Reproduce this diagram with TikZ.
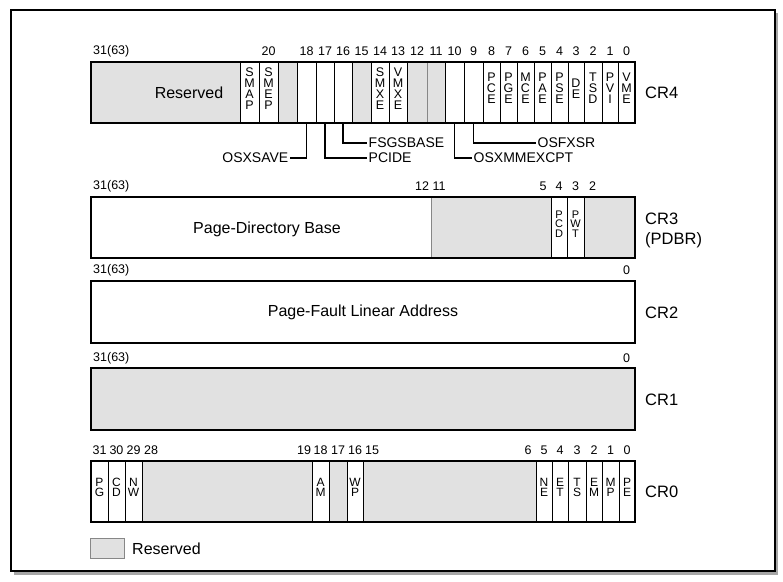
\documentclass[tikz,border=0pt]{standalone}
\usepackage{fontspec}
\setmainfont{Liberation Sans}
\usetikzlibrary{fit}
\definecolor{resv}{RGB}{225,225,225}
\definecolor{divg}{RGB}{135,135,135}
\newcommand\rc[5]{\node[#4, fit={(#2,\yt) (#3,\yb)}] (#1) {#5};}
\newcommand\bn[4]{\node[bitnum] (#1) at (#2,#3) {#4};}
\begin{document}
\begin{tikzpicture}[x=1pt,y=-1pt,
  gcell/.style={inner sep=0pt, outer sep=0pt, fill=resv, draw=divg, line width=0.8pt},
  wcell/.style={inner sep=0pt, outer sep=0pt, fill=white, draw=black, line width=0.7pt, align=center, font=\fontsize{12.5}{11}\selectfont},
  ocell/.style={wcell, font=\fontsize{12}{10.5}\selectfont},
  scell/.style={wcell, font=\fontsize{11}{9.5}\selectfont},
  regbox/.style={inner sep=0pt, outer sep=0pt, draw=black, line width=1.6pt},
  bitnum/.style={font=\fontsize{12.5}{13}\selectfont, inner sep=0pt},
  crlabel/.style={font=\fontsize{16.5}{20}\selectfont, anchor=west, inner sep=0pt, align=left},
  bigtext/.style={font=\fontsize{16}{18}\selectfont, inner sep=0pt},
  flaglabel/.style={font=\fontsize{14}{16}\selectfont, inner sep=1.5pt},
  leader/.style={draw=black, line width=1.4pt},
]
% canvas and frame
\useasboundingbox (0,0) rectangle (783,581);
\fill[white] (0,0) rectangle (783,581);
\fill[black!35] (14,13) rectangle (778,575);
\draw[fill=white, line width=1.2pt] (11,10) rectangle (775,571);

% ---------------- CR4 ----------------
\def\yt{62}\def\yb{123}
\rc{c4res}{91}{240}{gcell}{}
\rc{c4b19}{278}{297}{gcell}{}
\rc{c4b15}{352}{371}{gcell}{}
\rc{c4b12}{407}{427}{gcell}{}
\rc{c4b11}{427}{445}{gcell}{}
\rc{c4smap}{240}{259}{wcell}{S\\M\\A\\P}
\rc{c4smep}{259}{278}{wcell}{S\\M\\E\\P}
\rc{c4b18}{297}{316}{wcell}{}
\rc{c4b17}{316}{334}{wcell}{}
\rc{c4b16}{334}{352}{wcell}{}
\rc{c4smxe}{371}{389}{wcell}{S\\M\\X\\E}
\rc{c4vmxe}{389}{407}{wcell}{V\\M\\X\\E}
\rc{c4b10}{445}{464}{wcell}{}
\rc{c4b9}{464}{483}{wcell}{}
\rc{c4pce}{483}{500}{wcell}{P\\C\\E}
\rc{c4pge}{500}{517}{wcell}{P\\G\\E}
\rc{c4mce}{517}{534}{wcell}{M\\C\\E}
\rc{c4pae}{534}{551}{wcell}{P\\A\\E}
\rc{c4pse}{551}{568}{wcell}{P\\S\\E}
\rc{c4de}{568}{584}{wcell}{D\\E}
\rc{c4tsd}{584}{602}{wcell}{T\\S\\D}
\rc{c4pvi}{602}{618}{wcell}{P\\V\\I}
\rc{c4vme}{618}{635}{wcell}{V\\M\\E}
\node[regbox, fit={(91,\yt) (635,\yb)}] (cr4) {};
\node[bigtext] (c4restext) at (189,93) {Reserved};
\node[crlabel] (l4) at (645,93) {CR4};
\node[bitnum, anchor=west] (n4a) at (93,51) {31(63)};
\bn{n4b}{268.5}{51}{20}
\bn{n4c}{306.5}{51}{18}
\bn{n4d}{325}{51}{17}
\bn{n4e}{343}{51}{16}
\bn{n4f}{361.5}{51}{15}
\bn{n4g}{380}{51}{14}
\bn{n4h}{398}{51}{13}
\bn{n4i}{417}{51}{12}
\bn{n4j}{436}{51}{11}
\bn{n4k}{454.5}{51}{10}
\bn{n4l}{473.5}{51}{9}
\bn{n4m}{491.5}{51}{8}
\bn{n4n}{508.5}{51}{7}
\bn{n4o}{525.5}{51}{6}
\bn{n4p}{542.5}{51}{5}
\bn{n4q}{559.5}{51}{4}
\bn{n4r}{576}{51}{3}
\bn{n4s}{593}{51}{2}
\bn{n4t}{610}{51}{1}
\bn{n4u}{626.5}{51}{0}
% flag labels and leaders
\node[flaglabel, anchor=east] (osxsave) at (290,158) {OSXSAVE};
\node[flaglabel, anchor=west] (pcide) at (367,158) {PCIDE};
\node[flaglabel, anchor=west] (fsgsbase) at (367,143) {FSGSBASE};
\node[flaglabel, anchor=west] (osxmm) at (472,158) {OSXMMEXCPT};
\node[flaglabel, anchor=west] (osfxsr) at (536,143) {OSFXSR};
\draw[leader] (c4b18.south) |- (osxsave.east);
\draw[leader] (c4b17.south) |- (pcide.west);
\draw[leader] (c4b16.south) |- (fsgsbase.west);
\draw[leader] (c4b10.south) |- (osxmm.west);
\draw[leader] (c4b9.south) |- (osfxsr.west);

% ---------------- CR3 ----------------
\def\yt{197}\def\yb{258}
\rc{c3pdb}{91}{431}{wcell}{}
\rc{c3r1}{431}{551}{gcell}{}
\rc{c3r2}{584}{635}{gcell}{}
\rc{c3pcd}{551}{567}{scell}{P\\C\\D}
\rc{c3pwt}{567}{584}{scell}{P\\W\\T}
\node[regbox, fit={(91,\yt) (635,\yb)}] (cr3) {};
\node[bigtext] (c3text) at (267,229) {Page-Directory Base};
\node[crlabel] (l3) at (645,230) {CR3\\(PDBR)};
\node[bitnum, anchor=west] (n3a) at (93,186) {31(63)};
\bn{n3b}{422}{186}{12}
\bn{n3c}{439}{186}{11}
\bn{n3d}{543}{186}{5}
\bn{n3e}{559}{186}{4}
\bn{n3f}{575.5}{186}{3}
\bn{n3g}{592.5}{186}{2}

% ---------------- CR2 ----------------
\def\yt{281}\def\yb{343}
\rc{c2}{91}{635}{wcell}{}
\node[regbox, fit={(91,\yt) (635,\yb)}] (cr2) {};
\node[bigtext] (c2text) at (363,312) {Page-Fault Linear Address};
\node[crlabel] (l2) at (645,313) {CR2};
\node[bitnum, anchor=west] (n2a) at (93,270) {31(63)};
\bn{n2b}{626.5}{270}{0}

% ---------------- CR1 ----------------
\def\yt{368}\def\yb{430}
\rc{c1}{91}{635}{gcell}{}
\node[regbox, fit={(91,\yt) (635,\yb)}] (cr1) {};
\node[crlabel] (l1) at (645,400) {CR1};
\node[bitnum, anchor=west] (n1a) at (93,358) {31(63)};
\bn{n1b}{626.5}{358}{0}

% ---------------- CR0 ----------------
\def\yt{461}\def\yb{522}
\rc{c0r1}{142}{312}{gcell}{}
\rc{c0r2}{329}{347}{gcell}{}
\rc{c0r3}{363}{536}{gcell}{}
\rc{c0pg}{91}{108}{ocell}{P\\G}
\rc{c0cd}{108}{125}{ocell}{C\\D}
\rc{c0nw}{125}{142}{ocell}{N\\W}
\rc{c0am}{312}{329}{ocell}{A\\M}
\rc{c0wp}{347}{363}{ocell}{W\\P}
\rc{c0ne}{536}{552}{ocell}{N\\E}
\rc{c0et}{552}{568}{ocell}{E\\T}
\rc{c0ts}{568}{586}{ocell}{T\\S}
\rc{c0em}{586}{602}{ocell}{E\\M}
\rc{c0mp}{602}{619}{ocell}{M\\P}
\rc{c0pe}{619}{635}{ocell}{P\\E}
\node[regbox, fit={(91,\yt) (635,\yb)}] (cr0) {};
\node[crlabel] (l0) at (645,492) {CR0};
\bn{n0a}{99.5}{450}{31}
\bn{n0b}{116.5}{450}{30}
\bn{n0c}{133.5}{450}{29}
\bn{n0d}{151}{450}{28}
\bn{n0e}{304}{450}{19}
\bn{n0f}{320.5}{450}{18}
\bn{n0g}{338}{450}{17}
\bn{n0h}{355}{450}{16}
\bn{n0i}{372}{450}{15}
\bn{n0j}{528}{450}{6}
\bn{n0k}{544}{450}{5}
\bn{n0l}{560}{450}{4}
\bn{n0m}{577}{450}{3}
\bn{n0n}{594}{450}{2}
\bn{n0o}{610.5}{450}{1}
\bn{n0p}{627}{450}{0}

% ---------------- legend ----------------
\node[gcell, fit={(90,538) (124,558)}] (legbox) {};
\node[bigtext, anchor=west] (legtext) at (132,549) {Reserved};
\end{tikzpicture}
\end{document}
